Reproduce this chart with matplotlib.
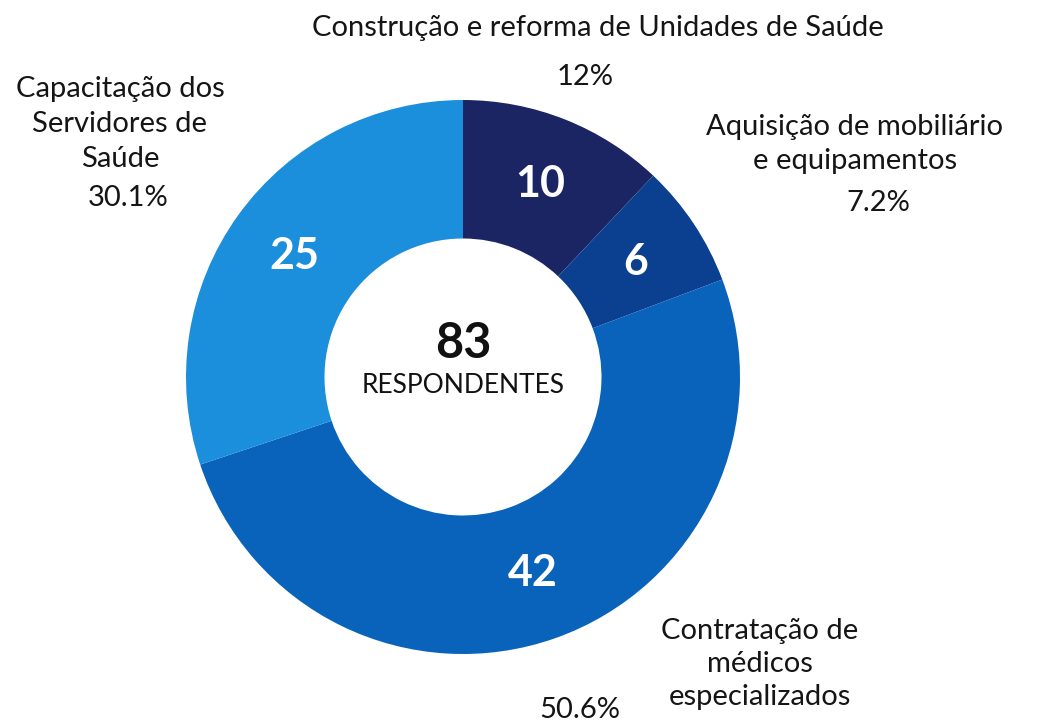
import matplotlib.pyplot as plt

plt.rcParams['font.family'] = ['Lato', 'DejaVu Sans']

categorias = ['Construção e reforma de Unidades de Saúde',
              'Aquisição de mobiliário\ne equipamentos',
              'Contratação de\nmédicos\nespecializados',
              'Capacitação dos\nServidores de\nSaúde']
valores = [10, 6, 42, 25]
percentuais = ['12%', '7.2%', '50.6%', '30.1%']
cores = ['#1b2563', '#0b3f8f', '#0a63bb', '#1b8fdc']
total = sum(valores)

fig = plt.figure(figsize=(10.44, 7.25), dpi=100)
ax = fig.add_axes([186/1044, 1 - 654/725, 554/1044, 554/725])

wedges, textos, numeros = ax.pie(
    valores, colors=cores, startangle=90, counterclock=False,
    wedgeprops=dict(width=0.5, edgecolor='none'),
    autopct=lambda p: '%d' % round(p * total / 100), pctdistance=0.75,
    textprops=dict(color='white', fontsize=31, fontweight='bold'))
ax.set_aspect('equal')
ax.set_xlim(-1, 1)
ax.set_ylim(-1, 1)

ax.text(0, 0.12, str(total), ha='center', va='center', fontsize=35,
        fontweight='bold', color='#111111')
ax.text(0, -0.03, 'RESPONDENTES', ha='center', va='center', fontsize=19,
        color='#111111')

# rótulos externos
cor_txt = '#151515'
fig.text(598/1044, 1 - 28/725, categorias[0], ha='center', va='center',
         fontsize=21, color=cor_txt)
fig.text(585/1044, 1 - 77/725, percentuais[0], ha='center', va='center',
         fontsize=21, color=cor_txt)

fig.text(855/1044, 1 - 144/725, categorias[1], ha='center', va='center',
         fontsize=21, color=cor_txt, linespacing=1.35)
fig.text(878/1044, 1 - 203/725, percentuais[1], ha='center', va='center',
         fontsize=21, color=cor_txt)

fig.text(760/1044, 1 - 664/725, categorias[2], ha='center', va='center',
         fontsize=21, color=cor_txt, linespacing=1.35)
fig.text(580/1044, 1 - 710/725, percentuais[2], ha='center', va='center',
         fontsize=21, color=cor_txt)

fig.text(120/1044, 1 - 124/725, categorias[3], ha='center', va='center',
         fontsize=21, color=cor_txt, linespacing=1.45)
fig.text(128/1044, 1 - 198/725, percentuais[3], ha='center', va='center',
         fontsize=21, color=cor_txt)

fig.savefig('out.png', dpi=100, facecolor='white')
